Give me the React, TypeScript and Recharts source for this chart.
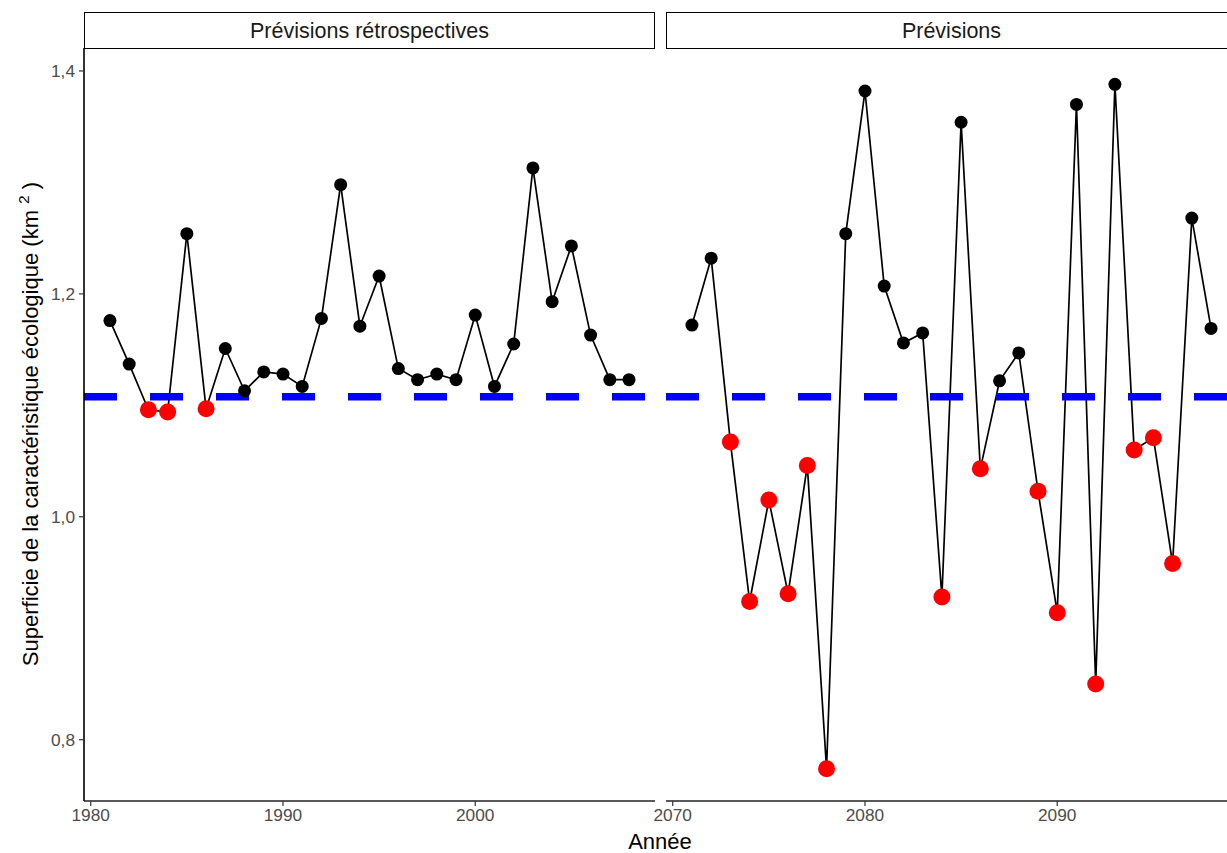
import React from 'react';
import { LineChart, Line, XAxis, YAxis, ReferenceLine } from 'recharts';

const yearsRetro = [1981, 1982, 1983, 1984, 1985, 1986, 1987, 1988, 1989, 1990, 1991, 1992, 1993, 1994, 1995, 1996, 1997, 1998, 1999, 2000, 2001, 2002, 2003, 2004, 2005, 2006, 2007, 2008];
const valuesRetro = [1.176, 1.137, 1.096, 1.094, 1.254, 1.097, 1.151, 1.113, 1.130, 1.128, 1.117, 1.178, 1.298, 1.171, 1.216, 1.133, 1.123, 1.128, 1.123, 1.181, 1.117, 1.155, 1.313, 1.193, 1.243, 1.163, 1.123, 1.123];

const yearsFcst = [2071, 2072, 2073, 2074, 2075, 2076, 2077, 2078, 2079, 2080, 2081, 2082, 2083, 2084, 2085, 2086, 2087, 2088, 2089, 2090, 2091, 2092, 2093, 2094, 2095, 2096, 2097, 2098];
const valuesFcst = [1.172, 1.232, 1.067, 0.924, 1.015, 0.931, 1.046, 0.774, 1.254, 1.382, 1.207, 1.156, 1.165, 0.928, 1.354, 1.043, 1.122, 1.147, 1.023, 0.914, 1.370, 0.850, 1.388, 1.060, 1.071, 0.958, 1.268, 1.169];

const threshold = 1.1076;
const yTicks = [0.8, 1.0, 1.2, 1.4];
const yDomain = [0.745, 1.4206];
const ticksRetro = [1980, 1990, 2000];
const ticksFcst = [2070, 2080, 2090];
const domainRetro = [1979.65, 2009.35];
const domainFcst = [2069.65, 2099.35];
const stripRetro = 'Prévisions rétrospectives';
const stripFcst = 'Prévisions';
const xTitle = 'Année';
const yTitle = 'Superficie de la caractéristique écologique (km';

const FONT = '"Liberation Sans", Arial, Helvetica, sans-serif';
const TICK_FONT = 17.3;

const build = (years: number[], vals: number[]) =>
  years.map((y, i) => ({
    year: y,
    value: vals[i],
    low: vals[i] < threshold ? vals[i] : null,
    high: vals[i] >= threshold ? vals[i] : null,
  }));

const dataRetro = build(yearsRetro, valuesRetro);
const dataFcst = build(yearsFcst, valuesFcst);

const makeDot = (r: number, fill: string) => (p: any) => {
  const k = `${fill}-${p.index}`;
  if (p.value == null || p.cy == null || isNaN(p.cy)) return <g key={k} />;
  return <circle key={k} cx={p.cx} cy={p.cy} r={r} fill={fill} stroke="none" />;
};
const redDot = makeDot(8.5, '#ff0000');
const blackDot = makeDot(6.5, '#000000');

const fmtY = (v: number) => v.toFixed(1).replace('.', ',');

const XTick = (p: any) => (
  <text x={p.x} y={p.y} dy="0.71em" textAnchor="middle" fontSize={TICK_FONT} fill="#4d4d4d" fontFamily={FONT}>
    {String(p.payload.value)}
  </text>
);
const YTick = (p: any) => (
  <text x={p.x} y={p.y} dy="0.36em" textAnchor="end" fontSize={TICK_FONT} fill="#4d4d4d" fontFamily={FONT}>
    {fmtY(p.payload.value)}
  </text>
);

function Panel(props: { data: any[]; domain: number[]; ticks: number[]; width: number; left: number; marginLeft: number; marginRight: number; showY: boolean }) {
  const { data, domain, ticks, width, left, marginLeft, marginRight, showY } = props;
  return (
    <div style={{ position: 'absolute', left, top: 0 }}>
      <LineChart width={width} height={853} data={data} margin={{ top: 48, right: marginRight, bottom: 22, left: marginLeft }}>
        <XAxis
          dataKey="year"
          type="number"
          domain={domain}
          ticks={ticks}
          allowDataOverflow
          height={30}
          tickSize={5}
          tickMargin={3}
          tick={XTick}
          axisLine={{ stroke: '#222', strokeWidth: 1.6 }}
          tickLine={{ stroke: '#333', strokeWidth: 1.2 }}
        />
        <YAxis
          type="number"
          domain={yDomain}
          ticks={yTicks}
          allowDataOverflow
          hide={!showY}
          width={showY ? 84 : 0}
          tickSize={5}
          tickMargin={4}
          tick={YTick}
          axisLine={{ stroke: '#000', strokeWidth: 1.6 }}
          tickLine={{ stroke: '#333', strokeWidth: 1.2 }}
        />
        <Line dataKey="low" stroke="none" dot={redDot} activeDot={false} isAnimationActive={false} />
        <Line dataKey="value" stroke="#000" strokeWidth={1.7} dot={false} activeDot={false} isAnimationActive={false} />
        <Line dataKey="high" stroke="none" dot={blackDot} activeDot={false} isAnimationActive={false} />
        <ReferenceLine y={threshold} stroke="#0000ff" strokeWidth={7.5} strokeDasharray="33 33" />
      </LineChart>
    </div>
  );
}

const stripBox = (left: number, width: number, text: string) => (
  <div
    style={{
      position: 'absolute',
      left,
      top: 12,
      width,
      height: 37,
      boxSizing: 'border-box',
      border: '1.6px solid #000',
      display: 'flex',
      alignItems: 'center',
      justifyContent: 'center',
      fontSize: 21.5,
      color: '#1a1a1a',
      fontFamily: FONT,
      background: '#fff',
      paddingTop: 2,
    }}
  >
    {text}
  </div>
);

export default function App() {
  return (
    <div style={{ position: 'fixed', left: 0, top: 0, width: 1227, height: 853, overflow: 'hidden', background: '#fff', fontFamily: FONT }}>
      <Panel data={dataRetro} domain={domainRetro} ticks={ticksRetro} width={660} left={0} marginLeft={0} marginRight={5} showY={true} />
      <Panel data={dataFcst} domain={domainFcst} ticks={ticksFcst} width={640} left={620} marginLeft={46} marginRight={23} showY={false} />
      {stripBox(84, 571, stripRetro)}
      {stripBox(666, 571, stripFcst)}
      <svg width={1227} height={853} style={{ position: 'absolute', left: 0, top: 0, pointerEvents: 'none' }}>
        <text x={660} y={849} textAnchor="middle" fontSize={22} fill="#000" fontFamily={FONT}>{xTitle}</text>
        <text transform="translate(38,424) rotate(-90)" textAnchor="middle" fontSize={22} fill="#000" fontFamily={FONT}>
          {yTitle}
          <tspan> </tspan>
          <tspan dy={-9} fontSize={15.5}>2</tspan>
          <tspan dy={9}> )</tspan>
        </text>
      </svg>
    </div>
  );
}
